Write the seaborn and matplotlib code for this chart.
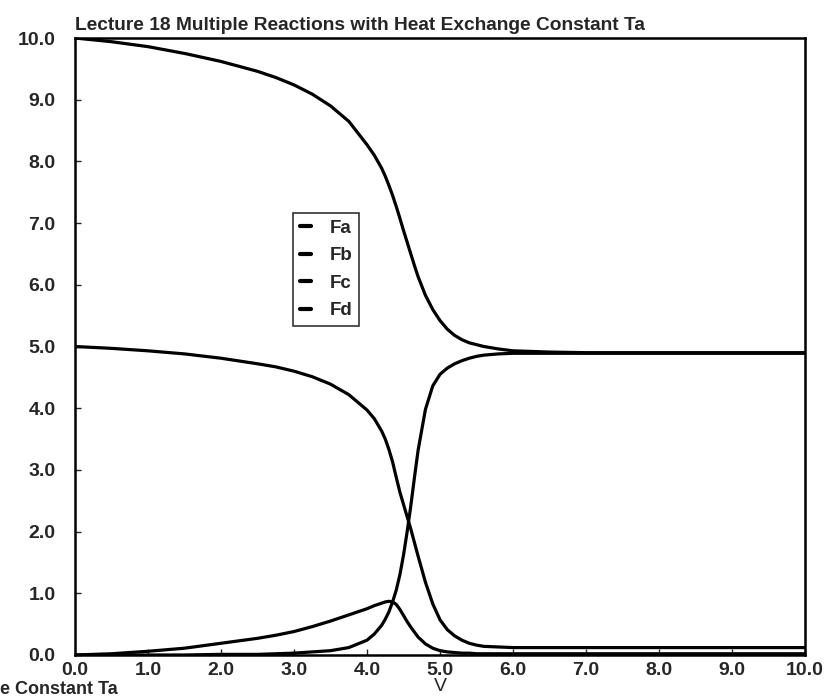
import pandas as pd
import matplotlib
matplotlib.use("Agg")
import matplotlib.pyplot as plt
from matplotlib.ticker import FormatStrFormatter
import seaborn as sns

# Values
V = [0.0, 0.5, 1.0, 1.5, 2.0, 2.5, 2.75, 3.0, 3.25, 3.5, 3.75, 4.0, 4.1, 4.2,
     4.25, 4.3, 4.35, 4.4, 4.45, 4.5, 4.55, 4.6, 4.65, 4.7, 4.8, 4.9, 5.0,
     5.1, 5.2, 5.3, 5.4, 5.5, 5.6, 5.8, 6.0, 6.5, 7.0, 8.0, 9.0, 10.0]
Fa = [10.0, 9.94, 9.86, 9.75, 9.62, 9.46, 9.36, 9.24, 9.09, 8.90, 8.65, 8.27,
      8.10, 7.89, 7.76, 7.61, 7.45, 7.27, 7.08, 6.88, 6.69, 6.50, 6.31, 6.13,
      5.83, 5.60, 5.42, 5.28, 5.18, 5.11, 5.06, 5.03, 5.00, 4.96, 4.93, 4.91,
      4.90, 4.90, 4.90, 4.90]
Fb = [5.00, 4.97, 4.93, 4.88, 4.81, 4.72, 4.67, 4.60, 4.51, 4.39, 4.22, 3.97,
      3.83, 3.63, 3.50, 3.33, 3.13, 2.88, 2.64, 2.44, 2.24, 2.04, 1.82, 1.60,
      1.18, 0.83, 0.57, 0.41, 0.31, 0.24, 0.19, 0.16, 0.14, 0.13, 0.12, 0.12,
      0.12, 0.12, 0.12, 0.12]
Fc = [0.0, 0.02, 0.06, 0.11, 0.19, 0.27, 0.32, 0.38, 0.46, 0.55, 0.65, 0.75,
      0.80, 0.84, 0.86, 0.87, 0.86, 0.82, 0.74, 0.64, 0.54, 0.45, 0.37, 0.29,
      0.18, 0.11, 0.07, 0.05, 0.04, 0.03, 0.03, 0.02, 0.02, 0.02, 0.02, 0.02,
      0.02, 0.02, 0.02, 0.02]
Fd = [0.0, 0.0, 0.0, 0.0, 0.01, 0.01, 0.02, 0.03, 0.05, 0.07, 0.12, 0.24,
      0.34, 0.48, 0.58, 0.70, 0.86, 1.05, 1.30, 1.62, 2.00, 2.42, 2.88, 3.32,
      3.98, 4.36, 4.55, 4.65, 4.72, 4.77, 4.81, 4.84, 4.86, 4.88, 4.89, 4.89,
      4.89, 4.89, 4.89, 4.89]
series = ["Fa", "Fb", "Fc", "Fd"]
ticks = [0, 1, 2, 3, 4, 5, 6, 7, 8, 9, 10]

rows = []
for name, vals in zip(series, [Fa, Fb, Fc, Fd]):
    for v, f in zip(V, vals):
        rows.append({"V": v, "F": f, "series": name})
df = pd.DataFrame(rows)

sns.set_style("white")
plt.rcParams['font.family'] = ['Liberation Sans', 'DejaVu Sans']

fig = plt.figure(figsize=(8.36, 7.0), dpi=100)
ax = fig.add_axes([0.0897, 0.0643, 0.8733, 0.8814])

sns.lineplot(data=df, x="V", y="F", hue="series", palette=["black"] * 4,
             linewidth=2.3, ax=ax, legend=False, sort=False)

ax.set_xlim(0, 10)
ax.set_ylim(0, 10)
ax.set_xticks(ticks)
ax.set_yticks(ticks)
ax.xaxis.set_major_formatter(FormatStrFormatter('%.1f'))
ax.yaxis.set_major_formatter(FormatStrFormatter('%.1f'))
ax.tick_params(direction='in', length=4, width=1, labelsize=14,
               bottom=True, left=True)
ax.tick_params(axis='y', pad=14)
ax.tick_params(axis='x', pad=5)
for lab in ax.get_xticklabels() + ax.get_yticklabels():
    lab.set_fontweight('bold')
for sp in ax.spines.values():
    sp.set_color('black')
    sp.set_linewidth(1.8)

ax.set_xlabel("V", fontsize=14, labelpad=-1)
ax.set_ylabel("")
ax.set_title("Lecture 18 Multiple Reactions with Heat Exchange Constant Ta",
             fontsize=13.8, fontweight='bold', loc='left', pad=6)

handles = [plt.Line2D([], [], color='black', linewidth=3) for _ in series]
leg = ax.legend(handles, series, loc='upper left', bbox_to_anchor=(0.299, 0.716),
                prop={'weight': 'bold', 'size': 13.5}, handlelength=0.6,
                handletextpad=1.0, labelspacing=0.55, borderpad=0.35,
                frameon=True, fancybox=False, borderaxespad=0)
leg.get_frame().set_edgecolor('black')
leg.get_frame().set_linewidth(1.2)

fig.text(0.0, 0.003, "e Constant Ta", fontsize=13, fontweight='bold',
         ha='left', va='bottom')

fig.savefig("out.png", dpi=100)
